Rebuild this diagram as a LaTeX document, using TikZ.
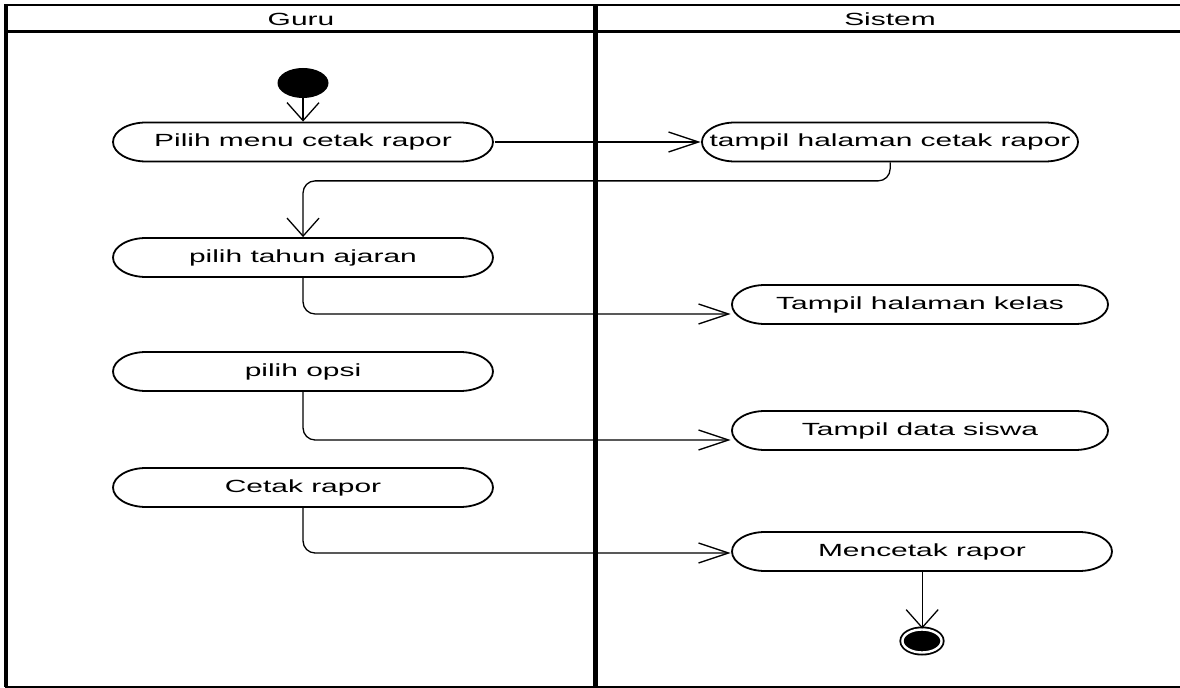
\documentclass[tikz,border=0pt]{standalone}
\usepackage{fontspec}
\setmainfont{Liberation Sans}
\usetikzlibrary{arrows.meta,shapes.misc}
\begin{document}
\begin{tikzpicture}[x=0.294118pt, y=-0.5pt, xscale=1.7,
  act/.style={rounded rectangle, draw, line width=0.9pt, minimum height=19.5pt,
    inner sep=0pt, font=\fontsize{8.8}{10}\selectfont, transform shape},
  lw/.style={act, minimum width=111.76pt},
  rw/.style={act, minimum width=110.6pt},
  hdr/.style={inner sep=0pt, font=\fontsize{8.8}{10}\selectfont, transform shape},
  startnode/.style={circle, fill=black, minimum size=15pt, inner sep=0pt, transform shape},
  endnode/.style={circle, fill=black, draw=black, line width=0.9pt, double=white,
    double distance=1.2pt, minimum size=11.5pt, inner sep=0pt, transform shape},
  conn/.style={line width=0.65pt},
  harr/.style={conn, -{Straight Barb[length=15pt, width=10pt]}},
  varr/.style={conn, -{Straight Barb[length=9pt, width=16pt]}}
]
\useasboundingbox (0,0) rectangle (1180,688);
% swimlane frame
\draw[line width=1pt] (4,5) -- (1180,5);
\draw[line width=1.5pt] (6,32) -- (1180,32);
\draw[line width=1.8pt] (6,4.5) -- (6,687);
\draw[line width=2.2pt] (595.5,4.5) -- (595.5,687);
\draw[line width=1pt] (5,687) -- (1180,687);
\node[hdr] (guru) at (301,19) {Guru};
\node[hdr] (sistem) at (890,19) {Sistem};
% nodes
\node[startnode] (st) at (303,83) {};
\node[lw] (n1) at (303,142) {Pilih menu cetak rapor};
\node[rw] (t1) at (890,142) {tampil halaman cetak rapor};
\node[lw] (p2) at (303,257.5) {pilih tahun ajaran};
\node[rw] (k) at (920,304.5) {Tampil halaman kelas};
\node[lw] (p3) at (303,371.5) {pilih opsi};
\node[rw] (s) at (920,430.5) {Tampil data siswa};
\node[lw] (p4) at (303,487.5) {Cetak rapor};
\node[act, minimum width=111.76pt] (m) at (922,551.5) {Mencetak rapor};
\node[endnode] (en) at (922,641) {};
% connectors
\draw[varr] (st.south) -- (n1.north);
\draw[harr] (n1.east) -- (t1.west);
\draw[varr, rounded corners=6pt] (t1.south) -- ++(0,18.5) -| (p2.north);
\draw[harr, rounded corners=6pt] (p2.south) |- ([yshift=-4.75pt]k.west);
\draw[harr, rounded corners=6pt] (p3.south) |- ([yshift=-4.75pt]s.west);
\draw[harr, rounded corners=6pt] (p4.south) |- ([yshift=-0.75pt]m.west);
\draw[varr] (m.south) -- (en.north);
\end{tikzpicture}
\end{document}
